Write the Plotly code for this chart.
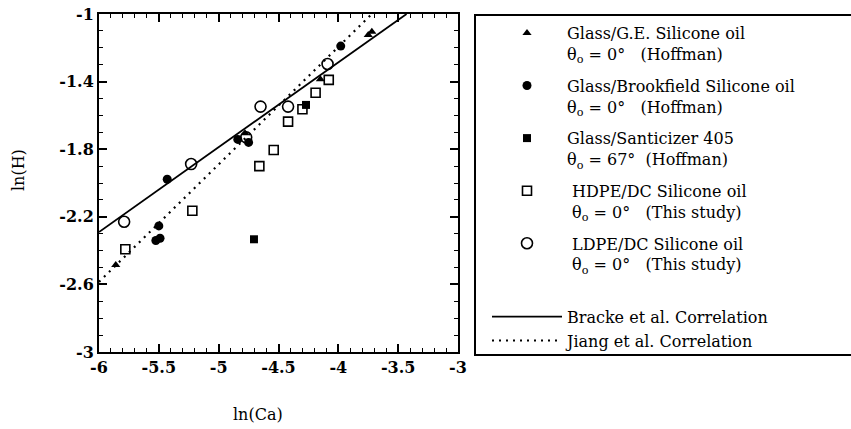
import plotly.graph_objects as go

# ---- data ----
ge_x = [-3.75, -3.72, -4.15, -4.78, -5.86]
ge_y = [-1.124, -1.105, -1.386, -1.706, -2.485]

brook_x = [-3.98, -4.84, -4.75, -5.43, -5.50, -5.49, -5.525]
brook_y = [-1.19, -1.742, -1.76, -1.978, -2.254, -2.327, -2.34]

sant_x = [-4.27, -4.705]
sant_y = [-1.538, -2.333]

hdpe_x = [-4.08, -4.19, -4.30, -4.42, -4.54, -4.66, -5.22, -5.78]
hdpe_y = [-1.39, -1.466, -1.564, -1.637, -1.805, -1.90, -2.164, -2.392]

ldpe_x = [-4.09, -4.42, -4.65, -4.77, -5.23, -5.79]
ldpe_y = [-1.296, -1.548, -1.548, -1.73, -1.888, -2.229]

bracke_x = [-6.0, -3.43]
bracke_y = [-2.29, -1.0]

jiang_x = [-6.0, -3.72]
jiang_y = [-2.585, -1.0]

names = [
    "Glass/G.E. Silicone oil<br>θ<sub>o</sub> = 0°   (Hoffman)",
    "Glass/Brookfield Silicone oil<br>θ<sub>o</sub> = 0°   (Hoffman)",
    "Glass/Santicizer 405<br>θ<sub>o</sub> = 67°  (Hoffman)",
    " HDPE/DC Silicone oil<br> θ<sub>o</sub> = 0°   (This study)",
    " LDPE/DC Silicone oil<br> θ<sub>o</sub> = 0°   (This study)<br> ",
    "Bracke et al. Correlation",
    "Jiang et al. Correlation",
]

FONT = "DejaVu Serif"
L, R, T, B = 99, 458, 14, 352
PW, PH = R - L, B - T

fig = go.Figure()

fig.add_trace(go.Scatter(x=ge_x, y=ge_y, mode="markers", name=names[0], legendgroup="a",
                         marker=dict(symbol="triangle-up", size=8, color="black")))
fig.add_trace(go.Scatter(x=brook_x, y=brook_y, mode="markers", name=names[1], legendgroup="b",
                         marker=dict(symbol="circle", size=9, color="black")))
fig.add_trace(go.Scatter(x=sant_x, y=sant_y, mode="markers", name=names[2], legendgroup="c",
                         marker=dict(symbol="square", size=8, color="black")))
fig.add_trace(go.Scatter(x=hdpe_x, y=hdpe_y, mode="markers", name=names[3], legendgroup="d",
                         marker=dict(symbol="square-open", size=9, color="black", line=dict(width=1.6))))
fig.add_trace(go.Scatter(x=ldpe_x, y=ldpe_y, mode="markers", name=names[4], legendgroup="e",
                         marker=dict(symbol="circle-open", size=11, color="black", line=dict(width=1.6))))
fig.add_trace(go.Scatter(x=bracke_x, y=bracke_y, mode="lines", name=names[5], legendgroup="f",
                         line=dict(color="black", width=1.8)))
fig.add_trace(go.Scatter(x=jiang_x, y=jiang_y, mode="lines", name=names[6], legendgroup="f",
                         line=dict(color="black", width=2.2, dash="2px,5px")))

axis_common = dict(
    showgrid=False, zeroline=False, showline=True, linecolor="black", linewidth=2,
    mirror="allticks", ticks="inside", ticklen=8, tickwidth=1.5, tickcolor="black",
    tickfont=dict(family=FONT, size=16, color="black", weight="bold"),
)

fig.update_xaxes(range=[-6, -3], tickmode="array", tickvals=[-6, -5.5, -5, -4.5, -4, -3.5, -3],
                 ticktext=["-6", "-5.5", "-5", "-4.5", "-4", "-3.5", "-3"],
                 minor=dict(ticks="inside", ticklen=4, tickwidth=1.2, tickcolor="black", dtick=0.1),
                 **axis_common)
fig.update_yaxes(range=[-3, -1], tickmode="array", tickvals=[-3, -2.6, -2.2, -1.8, -1.4, -1],
                 ticktext=["-3", "-2.6", "-2.2", "-1.8", "-1.4", "-1"],
                 minor=dict(ticks="inside", ticklen=4, tickwidth=1.2, tickcolor="black", dtick=0.1),
                 **axis_common)

fig.add_annotation(text="ln(Ca)", xref="paper", yref="paper", x=(258 - L) / PW, y=-(414 - B) / PH,
                   showarrow=False, font=dict(family=FONT, size=16, color="black"),
                   xanchor="center", yanchor="middle")
fig.add_annotation(text="ln(H)", xref="paper", yref="paper", x=-(L - 18) / PW, y=(B - 170) / PH,
                   showarrow=False, textangle=-90, font=dict(family=FONT, size=16, color="black"),
                   xanchor="center", yanchor="middle")

# legend frame (right edge lies beyond the picture, as in the reference)
fig.add_shape(type="rect", xref="paper", yref="paper",
              x0=(475 - L) / PW, x1=(900 - L) / PW, y0=-(355 - B) / PH, y1=(B - 15) / PH,
              line=dict(color="black", width=2))

fig.update_layout(
    width=851, height=429,
    margin=dict(l=L, r=851 - R, t=T, b=429 - B, autoexpand=False),
    paper_bgcolor="white", plot_bgcolor="white",
    showlegend=True,
    legend=dict(x=(487 - L) / PW, y=(B - 16) / PH, xanchor="left", yanchor="top",
                font=dict(family=FONT, size=16, color="black"), bgcolor="rgba(0,0,0,0)",
                itemwidth=70, tracegroupgap=8, valign="top", maxheight=420),
)

fig.write_html("out.html", config={"displayModeBar": False},
               post_script="document.body.style.margin='0';document.body.style.overflow='hidden';")
